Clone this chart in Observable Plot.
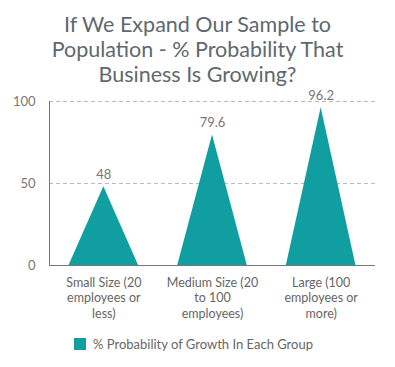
<!DOCTYPE html>
<html><head><meta charset="utf-8">
<script src="https://cdn.jsdelivr.net/npm/d3@7"></script>
<script src="https://cdn.jsdelivr.net/npm/@observablehq/plot@0.6"></script>
<style>
body{margin:0;background:#fff;font-family:Lato,"Open Sans",sans-serif;}
#wrap{width:395px;}
#title{text-align:center;color:#5e6870;font-size:21.5px;line-height:25px;padding-top:12px;height:76px;}
#legend{display:flex;align-items:center;margin-left:74px;margin-top:11px;color:#666;font-size:13px;}
#legend .sw{width:12px;height:12px;background:#109ea0;margin-right:7px;}
</style></head>
<body><div id="wrap">
<div id="title">If We Expand Our Sample to<br>Population - % Probability That<br>Business Is Growing?</div>
<div id="chart"></div>
<div id="legend"><div class="sw"></div><span>% Probability of Growth In Each Group</span></div>
</div>
<script>
const categories = ["Small Size (20\nemployees or\nless)", "Medium Size (20\nto 100\nemployees)", "Large (100\nemployees or\nmore)"];
const values = [48, 79.6, 96.2];
const seriesName = "% Probability of Growth In Each Group";
const yTicks = [0, 50, 100];

const half = 0.32;
const tri = [];
values.forEach((v, i) => {
  tri.push({c: i, x: i - half, y: 0});
  tri.push({c: i, x: i, y: v});
  tri.push({c: i, x: i + half, y: 0});
});
const peaks = values.map((v, i) => ({x: i, y: v}));

const chart = Plot.plot({
  width: 395, height: 237,
  marginLeft: 49, marginRight: 20, marginTop: 13, marginBottom: 60,
  style: {fontFamily: "Lato, sans-serif", color: "#666", background: "#fff"},
  x: {domain: [-0.5, 2.5], axis: null},
  y: {domain: [0, 100], axis: null},
  marks: [
    Plot.ruleY([50, 100], {stroke: "#bbb", strokeDasharray: "4,3"}),
    Plot.areaY(tri, {x: "x", y: "y", z: "c", fill: "#109ea0", curve: "linear"}),
    Plot.ruleX([-0.5], {y1: 0, y2: 100, stroke: "#777"}),
    Plot.ruleY([0], {stroke: "#777"}),
    Plot.axisY(yTicks, {tickSize: 0, tickPadding: 14, fontSize: 13, fill: "#777", label: null}),
    Plot.axisX([0, 1, 2], {tickSize: 0, tickPadding: 10, fontSize: 12.5, fill: "#666", lineHeight: 1.25, tickFormat: i => categories[i], label: null}),
    Plot.text(peaks, {x: "x", y: "y", text: d => String(d.y), dy: -12, fontSize: 13, fill: "#777"})
  ]
});
document.getElementById("chart").append(chart);
</script>
</body></html>
